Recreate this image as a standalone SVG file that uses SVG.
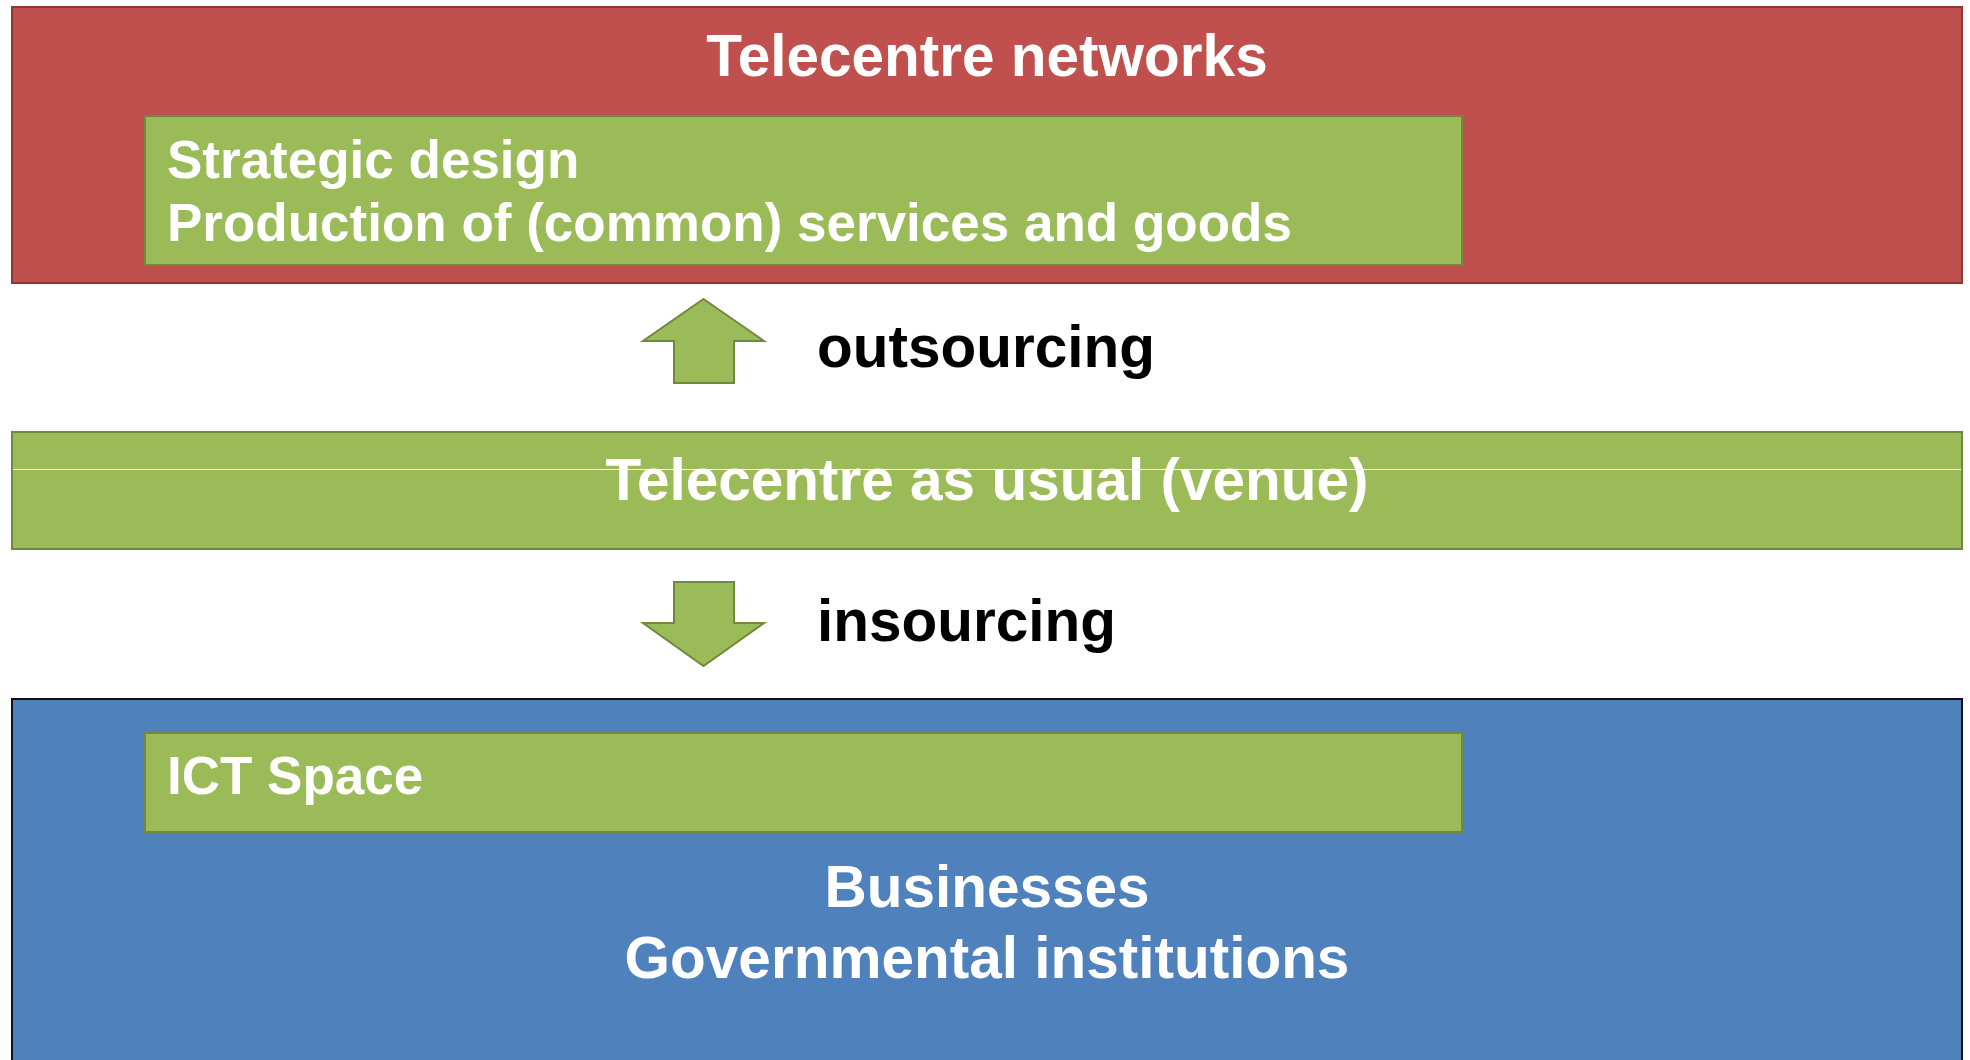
<svg xmlns="http://www.w3.org/2000/svg" width="1970" height="1060" viewBox="0 0 1970 1060">
<style>
.red{fill:#C0504D;stroke:#8C3836;stroke-width:2}
.green{fill:#9BBB59;stroke:#71893F;stroke-width:2}
.blue{fill:#4F81BD;stroke:#111;stroke-width:2}
.t{font-family:"Liberation Sans",Arial,sans-serif;font-weight:bold;font-size:58.5px;fill:#fff}
.s{font-family:"Liberation Sans",Arial,sans-serif;font-weight:bold;font-size:53px;fill:#fff}
.k{font-family:"Liberation Sans",Arial,sans-serif;font-weight:bold;font-size:58.5px;fill:#000}
</style>
<rect width="1970" height="1060" fill="#fff"/>
<g id="telecentre-networks">
<rect class="red" x="12" y="7" width="1950" height="276"/>
<text class="t" x="987" y="76" text-anchor="middle">Telecentre networks</text>
</g>
<g id="strategic-design">
<rect class="green" x="145" y="116" width="1317" height="149"/>
<text class="s" x="167" y="178">Strategic design</text>
<text class="s" x="167" y="241">Production of (common) services and goods</text>
</g>
<g id="telecentre-as-usual">
<rect class="green" x="12" y="432" width="1950" height="117"/>
<line x1="13" y1="469.5" x2="1961" y2="469.5" stroke="#fff" stroke-width="1"/>
<text class="t" x="987" y="500" text-anchor="middle">Telecentre as usual (venue)</text>
</g>
<g id="businesses">
<rect class="blue" x="12" y="699" width="1950" height="370"/>
<text class="t" x="987" y="907" text-anchor="middle">Businesses</text>
<text class="t" x="987" y="978" text-anchor="middle">Governmental institutions</text>
</g>
<g id="ict-space">
<rect class="green" x="145" y="733" width="1317" height="99"/>
<text class="s" x="167" y="794">ICT Space</text>
</g>
<g id="connectors">
<polygon class="green" points="703.5,299 764,341 734,341 734,383 674,383 674,341 643,341"/>
<text class="k" x="817" y="367">outsourcing</text>
<polygon class="green" points="674,582 734,582 734,623 764,623 703.5,666 643,623 674,623"/>
<text class="k" x="817" y="641">insourcing</text>
</g>
</svg>
